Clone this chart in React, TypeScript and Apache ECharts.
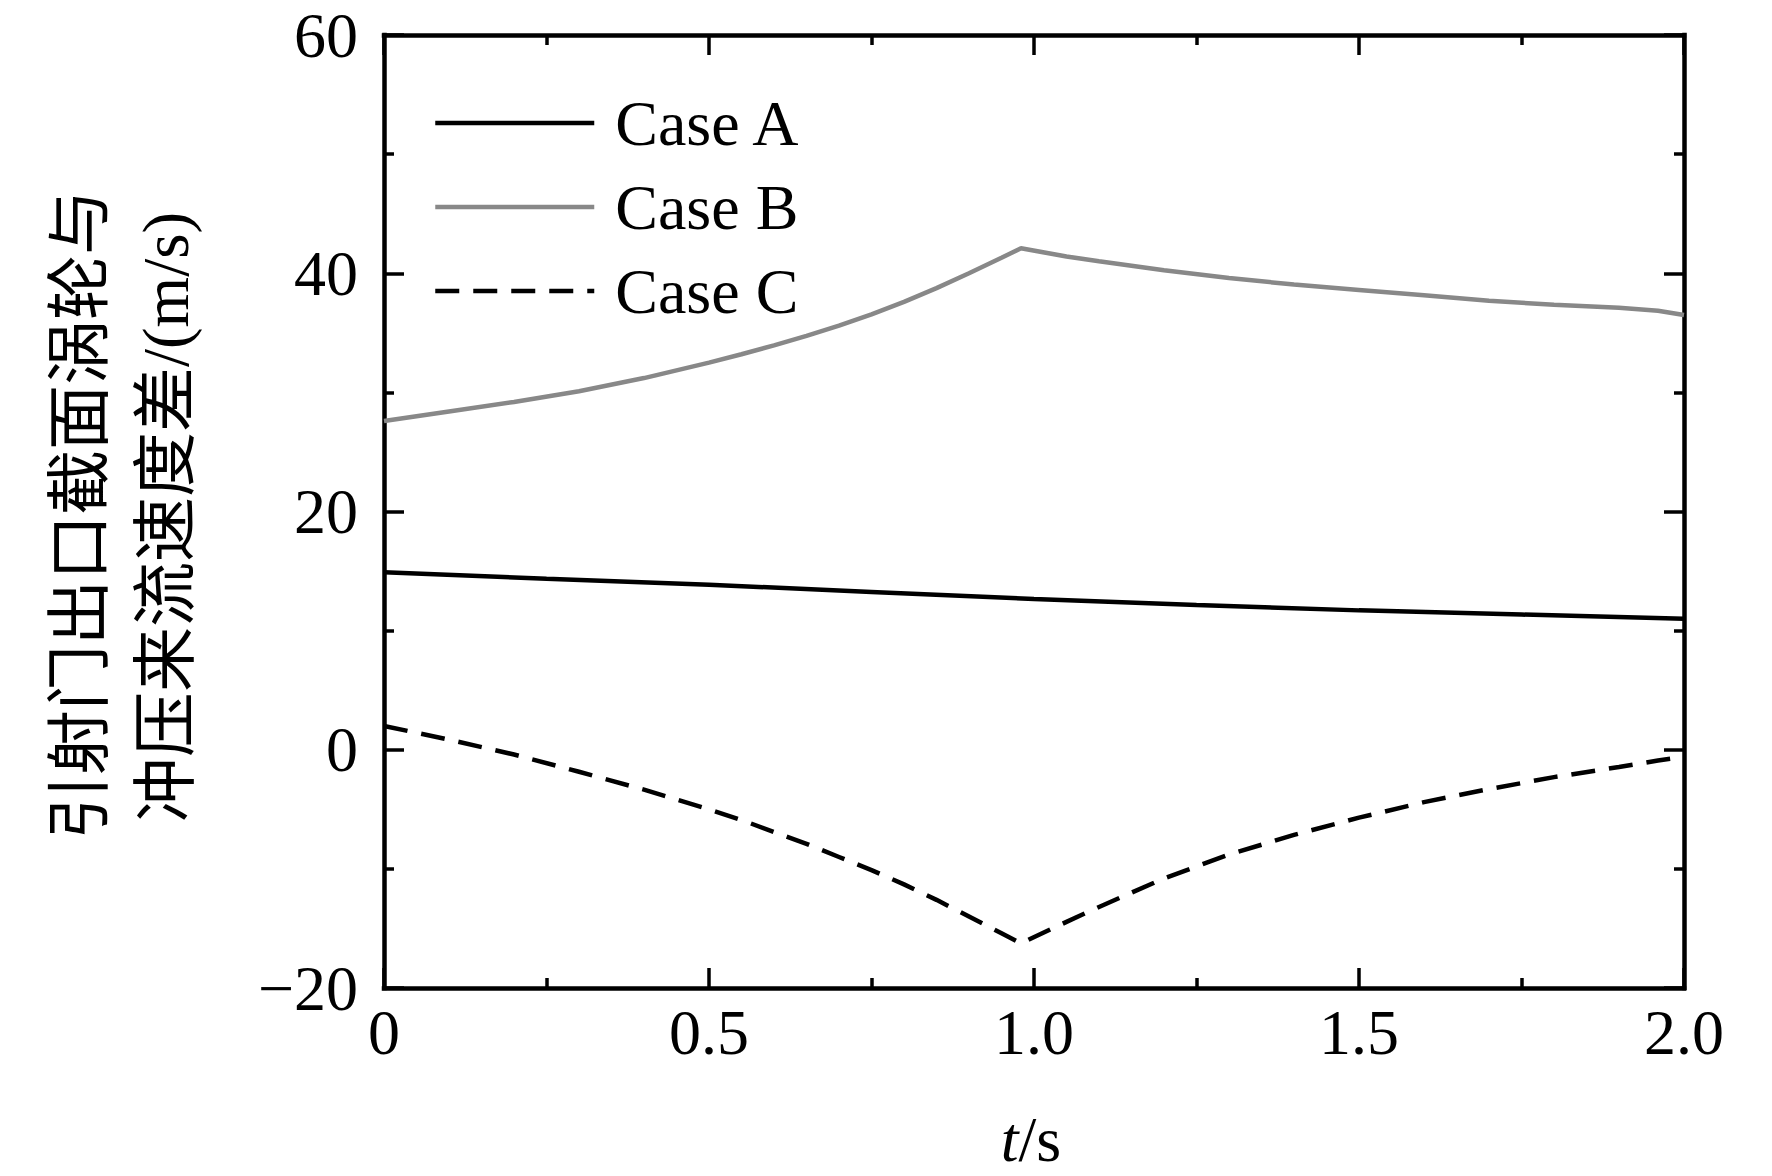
import React, { useEffect, useRef } from "react";
import * as echarts from "echarts";

const FONT = "'Liberation Serif', 'Times New Roman', 'Noto Sans CJK SC', serif";

// Case A
const timeA = [0, 0.25, 0.5, 0.75, 1.0, 1.25, 1.5, 1.75, 2.0];
const caseA = [14.9, 14.35, 13.85, 13.25, 12.65, 12.15, 11.7, 11.35, 11.0];

// Case B & C share a time grid
const timeBC = [0, 0.1, 0.2, 0.3, 0.4, 0.5, 0.55, 0.6, 0.65, 0.7, 0.75, 0.8, 0.85, 0.9, 0.95, 0.98, 1.05, 1.1, 1.2, 1.3, 1.4, 1.5, 1.6, 1.7, 1.8, 1.9, 1.96, 2.0];
const caseB = [27.6, 28.4, 29.2, 30.1, 31.2, 32.5, 33.2, 33.95, 34.75, 35.6, 36.55, 37.6, 38.75, 40.0, 41.3, 42.1, 41.4, 41.0, 40.25, 39.6, 39.05, 38.6, 38.15, 37.7, 37.35, 37.1, 36.85, 36.5];
const caseC = [2.0, 0.85, -0.4, -1.85, -3.35, -5.0, -5.9, -6.9, -7.9, -9.0, -10.1, -11.3, -12.6, -14.0, -15.4, -16.25, -14.45, -13.2, -10.8, -8.8, -7.15, -5.7, -4.4, -3.3, -2.3, -1.45, -0.9, -0.6];

const seriesNames = ["Case A", "Case B", "Case C"];
const xTicks = { min: 0, max: 2, interval: 0.5 };
const yTicks = { min: -20, max: 60, interval: 20 };
const yTitleLines = ["引射门出口截面涡轮与", "冲压来流速度差/(m/s)"];

const zip = (xs: number[], ys: number[]) => xs.map((x, i) => [x, ys[i]]);

export default function App() {
  const ref = useRef<HTMLDivElement>(null);
  useEffect(() => {
    if (!ref.current) return;
    const chart = echarts.init(ref.current, null, { renderer: "svg" });
    const axisLine = { show: true, onZero: false, lineStyle: { color: "#000", width: 4.5, cap: "square" } };
    const axisTick = { show: true, inside: true, length: 20, lineStyle: { color: "#000", width: 3.5 } };
    const minorTick = { show: true, splitNumber: 2, length: 10, lineStyle: { color: "#000", width: 3.5 } };
    const labelStyle = { color: "#000", fontSize: 64, fontFamily: FONT };
    const xBase = { type: "value", ...xTicks, axisLine, axisTick, minorTick, splitLine: { show: false } };
    const yBase = { type: "value", ...yTicks, axisLine, axisTick, minorTick, splitLine: { show: false } };
    chart.setOption({
      animation: false,
      backgroundColor: "#fff",
      grid: { left: 384, top: 35, width: 1300, height: 953 },
      xAxis: [
        {
          ...xBase,
          position: "bottom",
          axisLabel: {
            ...labelStyle,
            margin: 12,
            formatter: (v: number) => (v === 0 ? "0" : v.toFixed(1)),
          },
        },
        { ...xBase, position: "top", axisLabel: { show: false } },
      ],
      yAxis: [
        {
          ...yBase,
          position: "left",
          axisLabel: {
            ...labelStyle,
            margin: 26,
            formatter: (v: number) => (v < 0 ? "\u2212" + Math.abs(v) : String(v)),
          },
        },
        { ...yBase, position: "right", axisLabel: { show: false } },
      ],
      legend: {
        data: seriesNames,
        orient: "vertical",
        left: 433,
        top: 91,
        padding: 0,
        itemWidth: 159,
        itemHeight: 20,
        itemGap: 20,
        itemStyle: { opacity: 0 },
        lineStyle: { width: 4.5 },
        textStyle: { color: "#000", fontSize: 64, fontFamily: FONT, lineHeight: 64, padding: [0, 0, 0, 16] },
      },
      graphic: [
        {
          type: "text",
          x: 80,
          y: 515,
          rotation: Math.PI / 2,
          style: { text: yTitleLines[0], fontSize: 65, fontFamily: FONT, fill: "#000", align: "center", verticalAlign: "middle" },
        },
        {
          type: "text",
          x: 166,
          y: 517,
          rotation: Math.PI / 2,
          style: { text: yTitleLines[1], fontSize: 65, fontFamily: FONT, fill: "#000", align: "center", verticalAlign: "middle" },
        },
        {
          type: "text",
          x: 1031,
          y: 1139,
          style: {
            text: "{i|t}{n|/s}",
            align: "center",
            verticalAlign: "middle",
            rich: {
              i: { fontStyle: "italic", fontSize: 64, fontFamily: FONT, fill: "#000" },
              n: { fontSize: 64, fontFamily: FONT, fill: "#000" },
            },
          },
        },
      ],
      series: [
        {
          name: seriesNames[0],
          type: "line",
          data: zip(timeA, caseA),
          symbol: "none",
          lineStyle: { color: "#000", width: 4.5 },
          itemStyle: { color: "#000" },
        },
        {
          name: seriesNames[1],
          type: "line",
          data: zip(timeBC, caseB),
          symbol: "none",
          lineStyle: { color: "#888888", width: 4.5 },
          itemStyle: { color: "#888888" },
        },
        {
          name: seriesNames[2],
          type: "line",
          data: zip(timeBC, caseC),
          symbol: "none",
          lineStyle: { color: "#000", width: 4.5, type: [24, 14] },
          itemStyle: { color: "#000" },
        },
      ],
    });
    return () => chart.dispose();
  }, []);
  return (
    <div
      ref={ref}
      style={{ position: "fixed", left: 0, top: 0, width: 1772, height: 1176, background: "#fff" }}
    />
  );
}
